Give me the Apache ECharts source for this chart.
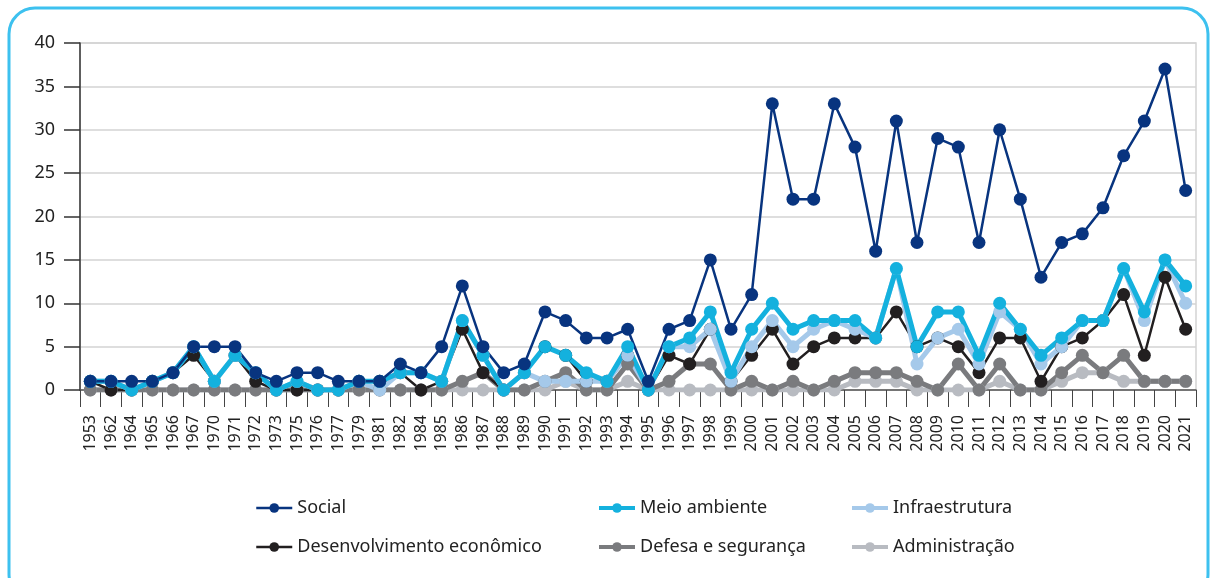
<!DOCTYPE html>
<html>
<head>
<meta charset="utf-8">
<script src="https://cdn.jsdelivr.net/npm/echarts@6/dist/echarts.min.js"></script>
<style>
html,body{margin:0;padding:0;background:#fff;}
#chart{width:1217px;height:578px;}
</style>
</head>
<body>
<div id="chart"></div>
<script>
const years = ['1953','1962','1964','1965','1966','1967','1970','1971','1972','1973',
  '1975','1976','1977','1979','1981','1982','1984','1985','1986','1987',
  '1988','1989','1990','1991','1992','1993','1994','1995','1996','1997','1998','1999',
  '2000','2001','2002','2003','2004','2005','2006','2007','2008','2009','2010',
  '2011','2012','2013','2014','2015','2016','2017','2018','2019','2020','2021'];

const social = [1,1,1,1,2,5,5,5,2,1,
  2,2,1,1,1,3,2,5,12,5,
  2,3,9,8,6,6,7,1,7,8,15,7,
  11,33,22,22,33,28,16,31,17,29,28,17,30,22,13,17,18,21,27,31,37,23];

const meioAmbiente = [1,1,0,1,2,5,1,4,2,0,
  1,0,0,1,1,2,2,1,8,4,
  0,2,5,4,2,1,5,0,5,6,9,2,
  7,10,7,8,8,8,6,14,5,9,9,4,10,7,4,6,8,8,14,9,15,12];

const infraestrutura = [1,1,0,1,2,5,1,4,2,0,
  1,0,0,1,0,2,2,1,8,4,
  0,2,1,1,1,1,4,0,5,5,7,1,
  5,8,5,7,8,7,6,14,3,6,7,3,9,7,3,5,8,8,14,8,15,10];

const desenvolvimento = [1,0,0,1,2,4,1,4,1,0,
  0,0,0,1,1,2,0,1,7,2,
  0,2,5,4,1,1,4,0,4,3,7,1,
  4,7,3,5,6,6,6,9,5,6,5,2,6,6,1,5,6,8,11,4,13,7];

const defesa = [0,0,0,0,0,0,0,0,0,0,
  0,0,0,0,0,0,0,0,1,2,
  0,0,1,2,0,0,3,0,1,3,3,0,
  1,0,1,0,1,2,2,2,1,0,3,0,3,0,0,2,4,2,4,1,1,1];

const administracao = [0,0,0,0,0,0,0,0,0,0,
  0,0,0,0,0,0,0,0,0,0,
  0,0,0,1,0,0,1,0,0,0,0,0,
  0,0,0,0,0,1,1,1,0,0,0,0,1,0,0,1,2,2,1,1,1,1];

const yTicks = ['0','5','10','15','20','25','30','35','40'];

const FONT = 'Noto Sans';

function mkSeries(name, data, color, width, size) {
  return {
    name: name, type: 'line', data: data,
    symbol: 'circle', symbolSize: size,
    lineStyle: {color: color, width: width},
    itemStyle: {color: color},
    emphasis: {disabled: true}
  };
}

const series = [
  mkSeries('Administração', administracao, '#b8bbc1', 5, 13),
  mkSeries('Defesa e segurança', defesa, '#7a7b7e', 5, 13),
  mkSeries('Desenvolvimento econômico', desenvolvimento, '#221f20', 2.5, 13),
  mkSeries('Infraestrutura', infraestrutura, '#a5c9ea', 5, 13),
  mkSeries('Meio ambiente', meioAmbiente, '#14b1de', 5, 13),
  mkSeries('Social', social, '#08347f', 2.5, 13)
];

function mkLegend(name, lw, left, top) {
  return {
    data: [{name: name, lineStyle: {width: lw}}], left: left, top: top, padding: 0,
    itemWidth: 36, itemHeight: 12, itemGap: 5,
    textStyle: {fontFamily: FONT, fontSize: 18, color: '#222'},
    selectedMode: false
  };
}

const chart = echarts.init(document.getElementById('chart'));
chart.setOption({
  animation: false,
  backgroundColor: '#fff',
  graphic: [{
    type: 'rect', silent: true, z: -10,
    shape: {x: 9, y: 8, width: 1199, height: 592, r: 26},
    style: {fill: 'none', stroke: '#3dc1ef', lineWidth: 3}
  }],
  grid: {left: 80, right: 21, top: 43, bottom: 188, show: true,
    borderColor: '#d3d3d3', borderWidth: 1.5, backgroundColor: 'transparent'},
  legend: [
    mkLegend('Social', 2.5, 255, 499),
    mkLegend('Meio ambiente', 4, 597, 499),
    mkLegend('Infraestrutura', 4, 850, 499),
    mkLegend('Desenvolvimento econômico', 2.5, 255, 538),
    mkLegend('Defesa e segurança', 4, 597, 538),
    mkLegend('Administração', 4, 850, 538)
  ],
  xAxis: {
    type: 'category', data: years, boundaryGap: true,
    axisLine: {lineStyle: {color: '#555', width: 1.5}},
    axisTick: {show: true, length: 17, alignWithLabel: false, lineStyle: {color: '#444', width: 1}},
    axisLabel: {rotate: 90, interval: 0, margin: 25, fontFamily: FONT, fontSize: 16, color: '#222'},
    splitLine: {show: false}
  },
  yAxis: {
    type: 'value', min: 0, max: 40, interval: 5,
    axisLine: {show: true, lineStyle: {color: '#333', width: 1.5}},
    axisTick: {show: true, length: 16, lineStyle: {color: '#333', width: 1.5}},
    axisLabel: {margin: 25, fontFamily: FONT, fontSize: 18, color: '#222',
      formatter: function (v) { return yTicks[v / 5]; }},
    splitLine: {lineStyle: {color: '#d3d3d3', width: 1.5}}
  },
  series: series
});
</script>
</body>
</html>
